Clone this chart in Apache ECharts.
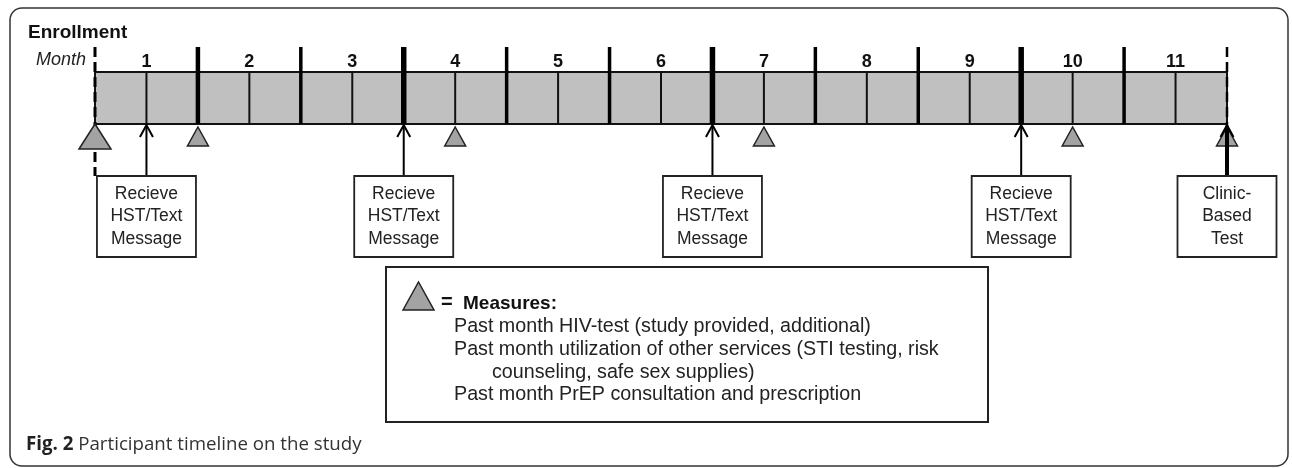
<!DOCTYPE html>
<html><head><meta charset="utf-8">
<script src="https://cdn.jsdelivr.net/npm/echarts@6/dist/echarts.min.js"></script>
<style>html,body{margin:0;padding:0;background:#fff}#c{width:1292px;height:468px}</style>
</head><body><div id="c"></div>
<script>
// ---- data ----
const monthLabels = ['1','2','3','4','5','6','7','8','9','10','11'];
const timelineSpan = [[0, 11]];
const boundaryMonths = [1,2,3,4,5,6,7,8,9,10];
const thickBoundaries = [1,3,6,9];
const halfMonths = [0.5,1.5,2.5,3.5,4.5,5.5,6.5,7.5,8.5,9.5,10.5];
const dashedMonths = [0, 11];
const measureMonths = [0, 1, 3.5, 6.5, 9.5, 11];
const hstMonths = [0.5, 3, 6, 9];
const clinicMonths = [11];
const hstBoxText = ['Recieve','HST/Text','Message'];
const clinicBoxText = ['Clinic-','Based','Test'];
const headerText = 'Enrollment';
const monthAxisName = 'Month';
const legendTitle = 'Measures:';
const legendLines = [
  'Past month HIV-test (study provided, additional)',
  'Past month utilization of other services (STI testing, risk',
  'counseling, safe sex supplies)',
  'Past month PrEP consultation and prescription'
];
const captionBold = 'Fig. 2';
const captionText = 'Participant timeline on the study';

// ---- style constants ----
const FONT = 'Liberation Sans, Arial, sans-serif';
const TALL = 25;      // how far month boundary lines rise above the bar
const BOX_GAP = 52;   // distance from bar bottom to box top
const BOX_W = 99, BOX_H = 81;

function barTop(api, m){ return api.coord([m, 1]); }
function barBot(api, m){ return api.coord([m, 0]); }

const chart = echarts.init(document.getElementById('c'), null, {renderer:'canvas'});

const option = {
  animation: false,
  grid: {left: 95, right: 65, top: 72, bottom: 344},
  xAxis: {
    type: 'value', min: 0, max: 11, interval: 0.5, position: 'top',
    axisLine: {show: false}, axisTick: {show: false}, splitLine: {show: false},
    axisLabel: {
      margin: 1, fontSize: 18, fontWeight: 'bold', color: '#111', fontFamily: FONT,
      formatter: v => (Math.abs(v % 1 - 0.5) < 1e-6) ? monthLabels[Math.floor(v)] : ''
    }
  },
  yAxis: {type: 'value', min: 0, max: 1, show: false},
  series: [
    { // grey timeline bar
      type: 'custom', z: 1, data: timelineSpan,
      renderItem: (p, api) => {
        const a = barTop(api, api.value(0)), b = barBot(api, api.value(1));
        return {type:'rect', shape:{x:a[0], y:a[1], width:b[0]-a[0], height:b[1]-a[1]},
          style:{fill:'#c0c0c0', stroke:'#111', lineWidth:2}};
      }
    },
    { // half-month lines
      type: 'custom', z: 2, data: halfMonths.map(m => [m]),
      renderItem: (p, api) => {
        const a = barTop(api, api.value(0)), b = barBot(api, api.value(0));
        return {type:'line', shape:{x1:a[0], y1:a[1], x2:b[0], y2:b[1]},
          style:{stroke:'#111', lineWidth:2}};
      }
    },
    { // month boundaries
      type: 'custom', z: 3, data: boundaryMonths.map(m => [m]),
      renderItem: (p, api) => {
        const m = api.value(0);
        const a = barTop(api, m), b = barBot(api, m);
        const w = m === 1 ? 4.5 : (thickBoundaries.indexOf(m) >= 0 ? 5.5 : 3.5);
        return {type:'line', shape:{x1:a[0], y1:a[1]-TALL, x2:b[0], y2:b[1]},
          style:{stroke:'#000', lineWidth:w}};
      }
    },
    { // dashed start / end lines
      type: 'custom', z: 4, data: dashedMonths.map(m => [m]),
      renderItem: (p, api) => {
        const m = api.value(0);
        const a = barTop(api, m), b = barBot(api, m);
        return {type:'line', shape:{x1:a[0], y1:a[1]-TALL, x2:b[0], y2:b[1]+BOX_GAP},
          style:{stroke:'#000', lineWidth: m === 0 ? 3 : 2.5, lineDash:[10,5]}};
      }
    },
    { // measure triangles
      type: 'custom', z: 5, data: measureMonths.map(m => [m]),
      renderItem: (p, api) => {
        const m = api.value(0);
        const b = barBot(api, m);
        const big = m === 0;
        const w = big ? 32 : 21, h = big ? 25 : 19, t = b[1] + (big ? 0 : 3);
        return {type:'polygon', shape:{points:[[b[0]-w/2, t+h],[b[0], t],[b[0]+w/2, t+h]]},
          style:{fill:'#a3a3a3', stroke:'#222', lineWidth:1.5}};
      }
    },
    { // HST / clinic arrows
      type: 'custom', z: 6, data: hstMonths.map(m => [m, 2]).concat(clinicMonths.map(m => [m, 4])),
      renderItem: (p, api) => {
        const b = barBot(api, api.value(0));
        const x = b[0], tip = b[1] + 1, w = api.value(1);
        return {type:'group', children:[
          {type:'line', shape:{x1:x, y1:b[1]+BOX_GAP, x2:x, y2:tip+1}, style:{stroke:'#000', lineWidth:w}},
          {type:'polyline', shape:{points:[[x-6.5, tip+12],[x, tip],[x+6.5, tip+12]]}, style:{stroke:'#000', lineWidth:2, fill:null}}
        ]};
      }
    },
    { // HST boxes
      type: 'custom', z: 7, data: hstMonths.map(m => [m]),
      renderItem: (p, api) => boxItem(api, hstBoxText)
    },
    { // clinic box
      type: 'custom', z: 7, data: clinicMonths.map(m => [m]),
      renderItem: (p, api) => boxItem(api, clinicBoxText)
    }
  ],
  graphic: [
    {type:'rect', z:0, shape:{x:10, y:8, width:1278, height:458, r:12},
     style:{fill:'none', stroke:'#333', lineWidth:1.5}},
    {type:'text', x:28, y:33, style:{text:headerText, font:'bold 19px ' + FONT, fill:'#111', verticalAlign:'middle'}},
    {type:'text', x:86, y:60, style:{text:monthAxisName, font:'italic 18px ' + FONT, fill:'#222', align:'right', verticalAlign:'middle'}},
    {type:'group', children:[
      {type:'rect', shape:{x:386, y:267, width:602, height:155}, style:{fill:'#fff', stroke:'#222', lineWidth:2}},
      {type:'polygon', shape:{points:[[403,310],[418.5,282],[434,310]]}, style:{fill:'#a3a3a3', stroke:'#222', lineWidth:1.5}},
      {type:'text', x:441, y:302, style:{text:'=', font:'bold 20px ' + FONT, fill:'#111', verticalAlign:'middle'}},
      {type:'text', x:463, y:304, style:{text:legendTitle, font:'bold 19px ' + FONT, fill:'#111', verticalAlign:'middle'}},
      {type:'text', x:454, y:327, style:{text:legendLines[0], font:'19.7px ' + FONT, fill:'#222', verticalAlign:'middle'}},
      {type:'text', x:454, y:349.5, style:{text:legendLines[1], font:'19.7px ' + FONT, fill:'#222', verticalAlign:'middle'}},
      {type:'text', x:492, y:372.5, style:{text:legendLines[2], font:'19.7px ' + FONT, fill:'#222', verticalAlign:'middle'}},
      {type:'text', x:454, y:395, style:{text:legendLines[3], font:'19.7px ' + FONT, fill:'#222', verticalAlign:'middle'}}
    ]},
    {type:'text', x:26, y:445, style:{
      text:'{b|' + captionBold + '} ' + captionText,
      font:'18.7px "Open Sans", sans-serif', fill:'#333', verticalAlign:'middle',
      rich:{b:{font:'bold 18.7px "Open Sans", sans-serif', fill:'#222'}}
    }}
  ]
};

function boxItem(api, lines){
  const b = barBot(api, api.value(0));
  const x = b[0], top = b[1] + BOX_GAP;
  return {type:'group', children:[
    {type:'rect', shape:{x:x-BOX_W/2, y:top, width:BOX_W, height:BOX_H}, style:{fill:'#fff', stroke:'#222', lineWidth:1.8}},
    {type:'text', style:{text:lines.join('\n'), x:x, y:top+BOX_H/2, align:'center', verticalAlign:'middle',
      font:'17.5px ' + FONT, lineHeight:22.5, fill:'#222'}}
  ]};
}

chart.setOption(option);
</script>
</body></html>
